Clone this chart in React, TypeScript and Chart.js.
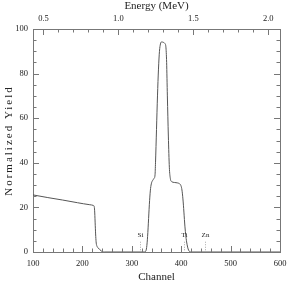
import { useEffect, useRef } from 'react';
import { Chart, registerables } from 'chart.js';

Chart.register(...registerables);

// ---- data ----
const channels = [
  100, 130, 160, 190, 215, 222, 224, 225, 226, 227, 228, 229.5, 232, 235, 238, 241, 245,
  325, 328, 330, 332, 334, 336, 338, 340, 342, 345, 347, 348, 350, 352, 354, 356, 358, 360, 364, 367, 369,
  370.5, 372, 374, 376, 378, 381, 386, 392, 396, 399, 401, 403, 405, 407, 409, 411, 413, 415, 417, 420, 600,
];
const yields = [
  25.6, 24.4, 23.3, 22.1, 21.2, 20.9, 20.3, 17.5, 12, 7, 4, 2.6, 1.8, 1.1, 0.5, 0.1, 0,
  0, 0.3, 2, 7, 15, 23, 28.5, 31, 32, 33, 34.5, 40, 55, 70, 82, 90, 93.3, 94.2, 94, 93.5, 92,
  85, 70, 52, 38, 33, 31.5, 31.2, 31, 30.7, 30, 28.5, 25, 19.5, 13, 8, 4.5, 2.2, 0.8, 0.2, 0, 0,
];
const elementNames = ['Si', 'Ti', 'Zn'];
const elementChannels = [317, 406, 448.5];
const channelTicks = [100, 200, 300, 400, 500, 600];
const energyTicks = [0.5, 1.0, 1.5, 2.0];
const yieldTicks = [0, 20, 40, 60, 80, 100];
const CHANNEL_MIN = 100;
const CHANNEL_MAX = 600;
const ENERGY_MIN = 0.43; // energy at channel 100
const ENERGY_MAX = 2.078; // energy at channel 600
const YIELD_MIN = 0;
const YIELD_MAX = 100;

const FONT = '"Liberation Serif", "DejaVu Serif", serif';
const AXIS_COLOR = '#777';
const TEXT_COLOR = '#222';

const zeroPad = (s: any) => {
  s.paddingLeft = 0;
  s.paddingRight = 0;
  s.paddingTop = 0;
  s.paddingBottom = 0;
};

const decorPlugin = {
  id: 'decor',
  afterDraw(chart: any) {
    const { ctx, chartArea: a, scales } = chart;
    const x = scales.x;
    const xt = scales.xTop;
    const y = scales.y;
    ctx.save();
    ctx.strokeStyle = AXIS_COLOR;
    ctx.lineWidth = 1;
    const line = (x1: number, y1: number, x2: number, y2: number) => {
      ctx.beginPath();
      ctx.moveTo(x1, y1);
      ctx.lineTo(x2, y2);
      ctx.stroke();
    };
    for (let c = CHANNEL_MIN; c <= CHANNEL_MAX; c += 20) {
      const px = Math.round(x.getPixelForValue(c)) + 0.5;
      const len = c % 100 === 0 ? 6 : 3.5;
      line(px, a.bottom, px, a.bottom - len);
    }
    for (let k = 5; k <= 20; k++) {
      const e = k / 10;
      const px = Math.round(xt.getPixelForValue(e)) + 0.5;
      const len = k % 5 === 0 ? 6 : 3.5;
      line(px, a.top, px, a.top + len);
    }
    for (let v = YIELD_MIN; v <= YIELD_MAX; v += 5) {
      const py = Math.round(y.getPixelForValue(v)) + 0.5;
      const len = v % 20 === 0 ? 6 : 3.5;
      line(a.left, py, a.left + len, py);
      line(a.right, py, a.right - len, py);
    }
    ctx.font = `7px ${FONT}`;
    ctx.fillStyle = TEXT_COLOR;
    ctx.textAlign = 'center';
    ctx.textBaseline = 'middle';
    ctx.strokeStyle = '#aaa';
    ctx.setLineDash([1, 1.5]);
    elementNames.forEach((name, i) => {
      const px = Math.round(x.getPixelForValue(elementChannels[i])) + 0.5;
      ctx.fillText(name, px, y.getPixelForValue(7.6));
      line(px, y.getPixelForValue(4.6), px, y.getPixelForValue(0.4));
    });
    ctx.setLineDash([]);
    ctx.save();
    ctx.translate(9, (a.top + a.bottom) / 2);
    ctx.rotate(-Math.PI / 2);
    ctx.font = `11px ${FONT}`;
    ctx.fillStyle = TEXT_COLOR;
    try { (ctx as any).letterSpacing = '2px'; } catch (e) {}
    ctx.fillText('Normalized Yield', 0, 0);
    ctx.restore();
    ctx.restore();
  },
};

export default function App() {
  const ref = useRef<HTMLCanvasElement>(null);
  useEffect(() => {
    if (!ref.current) return;
    const data = channels.map((c, i) => ({ x: c, y: yields[i] }));
    const chart = new Chart(ref.current, {
      type: 'line',
      data: {
        datasets: [
          {
            data,
            borderColor: '#555',
            borderWidth: 1,
            pointRadius: 0,
            cubicInterpolationMode: 'monotone',
            fill: false,
          },
        ],
      },
      options: {
        animation: false,
        responsive: false,
        maintainAspectRatio: false,
        layout: { padding: 0 },
        plugins: { legend: { display: false }, tooltip: { enabled: false } },
        scales: {
          x: {
            type: 'linear',
            position: 'bottom',
            min: CHANNEL_MIN,
            max: CHANNEL_MAX,
            afterBuildTicks: (s: any) => { s.ticks = channelTicks.map((v) => ({ value: v })); },
            afterFit: (s: any) => { s.height = 32; zeroPad(s); },
            grid: { display: false, drawTicks: false },
            border: { display: true, color: AXIS_COLOR, width: 1 },
            ticks: { font: { family: FONT, size: 8.5 }, color: TEXT_COLOR, padding: 7, maxRotation: 0 },
            title: { display: true, text: 'Channel', font: { family: FONT, size: 11 }, color: TEXT_COLOR, padding: { top: 0, bottom: 0 } },
          },
          xTop: {
            type: 'linear',
            position: 'top',
            min: ENERGY_MIN,
            max: ENERGY_MAX,
            afterBuildTicks: (s: any) => { s.ticks = energyTicks.map((v) => ({ value: v })); },
            afterFit: (s: any) => { s.height = 29; zeroPad(s); },
            grid: { display: false, drawTicks: false },
            border: { display: true, color: AXIS_COLOR, width: 1 },
            ticks: { font: { family: FONT, size: 8.5 }, color: TEXT_COLOR, padding: 5, maxRotation: 0, callback: (v: any) => Number(v).toFixed(1) },
            title: { display: true, text: 'Energy (MeV)', font: { family: FONT, size: 11 }, color: TEXT_COLOR, padding: { top: 0, bottom: 0 } },
          },
          y: {
            type: 'linear',
            position: 'left',
            min: YIELD_MIN,
            max: YIELD_MAX,
            afterBuildTicks: (s: any) => { s.ticks = yieldTicks.map((v) => ({ value: v })); },
            afterFit: (s: any) => { s.width = 33; zeroPad(s); },
            grid: { display: false, drawTicks: false },
            border: { display: true, color: AXIS_COLOR, width: 1 },
            ticks: { font: { family: FONT, size: 8.5 }, color: TEXT_COLOR, padding: 5 },
          },
          yRight: {
            type: 'linear',
            position: 'right',
            min: YIELD_MIN,
            max: YIELD_MAX,
            afterFit: (s: any) => { s.width = 7; zeroPad(s); },
            grid: { display: false, drawTicks: false },
            border: { display: true, color: AXIS_COLOR, width: 1 },
            ticks: { display: false },
          },
        },
      },
      plugins: [decorPlugin],
    } as any);
    return () => chart.destroy();
  }, []);
  return (
    <div style={{ position: 'fixed', left: 0, top: 0, width: 287, height: 284, background: '#fff' }}>
      <canvas ref={ref} width={287} height={284} style={{ width: 287, height: 284, display: 'block' }} />
    </div>
  );
}
